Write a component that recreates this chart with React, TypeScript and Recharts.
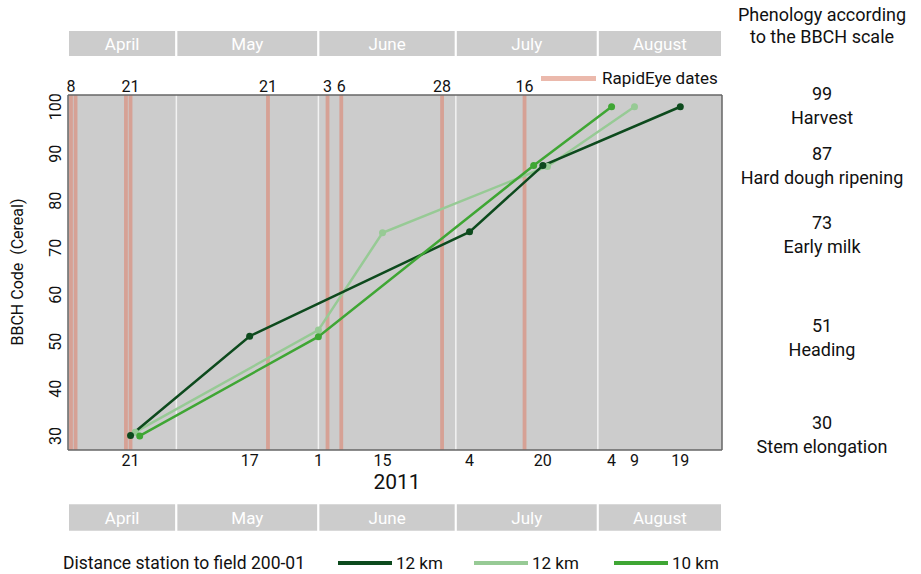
import React from 'react';
import {
  ComposedChart,
  Line,
  XAxis,
  YAxis,
  CartesianGrid,
  ReferenceLine,
  ReferenceArea,
} from 'recharts';

// day of year for 2011 (non-leap)
const MONTH_OFFSET: Record<number, number> = { 4: 90, 5: 120, 6: 151, 7: 181, 8: 212, 9: 243 };
const doy = (s: string) => {
  const [m, d] = s.split('-').map(Number);
  return MONTH_OFFSET[m] + d;
};
const dayOfMonth = (v: number) => {
  const m = [9, 8, 7, 6, 5, 4].find((k) => v > MONTH_OFFSET[k]) ?? 4;
  return String(Math.round(v - MONTH_OFFSET[m]));
};

const X_MIN = 97.35;
const X_MAX = 240.1;
const Y_MIN = 27;
const Y_MAX = 102.5;

const months = ['April', 'May', 'June', 'July', 'August'];
const monthStarts = ['04-01', '05-01', '06-01', '07-01', '08-01'];

const rapidEyeDates = ['04-08', '04-09', '04-20', '04-21', '05-21', '06-03', '06-06', '06-28', '07-16'];
const rapidEyeLabels = ['04-08', '04-21', '05-21', '06-03', '06-06', '06-28', '07-16'];
const bottomTicks = ['04-21', '05-17', '06-01', '06-15', '07-04', '07-20', '08-04', '08-09', '08-19'];
const yTicks = [30, 40, 50, 60, 70, 80, 90, 100];

// 12 km (dark)
const darkDates = ['04-21', '05-17', '07-04', '07-20', '08-19'];
const darkValues = [30.1, 51.2, 73.4, 87.5, 100];
// 12 km (light)
const lightDates = ['04-22', '06-01', '06-15', '07-21', '08-09'];
const lightValues = [30.8, 52.5, 73.2, 87.3, 100];
// 10 km
const midDates = ['04-23', '06-01', '07-18', '08-04'];
const midValues = [30, 51.1, 87.5, 100];

const phenoCodes = ['99', '87', '73', '51', '30'];
const phenoNames = ['Harvest', 'Hard dough ripening', 'Early milk', 'Heading', 'Stem elongation'];

const toRows = (dates: string[], values: number[]) =>
  dates.map((d, i) => ({ x: doy(d), y: values[i] }));

const DARK = '#0d4a1d';
const LIGHT = '#97ca95';
const MID = '#3fa634';
const BAR = '#d6a195';
const FONT = 'Roboto, sans-serif';

const YTick = (props: any) => {
  const { x, y, payload } = props;
  return (
    <text
      transform={`translate(${x - 13},${y}) rotate(-90)`}
      textAnchor="middle"
      dominantBaseline="central"
      fontSize={16}
      fill="#111"
      fontFamily={FONT}
    >
      {payload.value}
    </text>
  );
};

const bandBounds = monthStarts.map((s, i) => [
  Math.max(doy(s), X_MIN),
  i + 1 < monthStarts.length ? doy(monthStarts[i + 1]) : X_MAX,
]);

const pheno = [15, 93, 153, 222, 325, 422];

export default function App() {
  const tickStyle = { fontSize: 16, fill: '#111', fontFamily: FONT };
  const bandLabel = (m: string) => ({
    value: m,
    position: 'center' as const,
    fill: '#ffffff',
    fontSize: 17,
    fontFamily: FONT,
  });
  return (
    <div style={{ position: 'absolute', left: 0, top: 0, width: 921, height: 574, fontFamily: FONT, color: '#111' }}>
      <ComposedChart
        width={921}
        height={574}
        margin={{ top: 70, right: 199, bottom: 94, left: 0 }}
        style={{ fontFamily: FONT }}
      >
        <CartesianGrid fill="#cccccc" horizontal={false} vertical={false} />
        <XAxis
          xAxisId={0}
          type="number"
          dataKey="x"
          domain={[X_MIN, X_MAX]}
          allowDataOverflow
          ticks={bottomTicks.map(doy)}
          tickFormatter={dayOfMonth}
          tick={tickStyle}
          tickLine={false}
          tickSize={0}
          tickMargin={5}
          height={30}
          axisLine={{ stroke: '#666', strokeWidth: 1.5 }}
        />
        <XAxis
          xAxisId="top"
          orientation="top"
          type="number"
          dataKey="x"
          domain={[X_MIN, X_MAX]}
          allowDataOverflow
          ticks={rapidEyeLabels.map(doy)}
          tickFormatter={dayOfMonth}
          tick={tickStyle}
          tickLine={false}
          tickSize={0}
          tickMargin={3}
          height={25}
          axisLine={{ stroke: '#666', strokeWidth: 1.5 }}
        />
        <YAxis
          type="number"
          domain={[Y_MIN, Y_MAX]}
          allowDataOverflow
          ticks={yTicks}
          tick={<YTick />}
          tickLine={false}
          tickSize={0}
          tickMargin={0}
          width={68}
          axisLine={{ stroke: '#666', strokeWidth: 1.5 }}
        />

        {/* month bands above and below the plot */}
        {months.map((m, i) => (
          <ReferenceArea
            key={'t' + m}
            x1={bandBounds[i][0]}
            x2={bandBounds[i][1]}
            y1={110.6}
            y2={116.3}
            ifOverflow="visible"
            fill="#cccccc"
            fillOpacity={1}
            stroke="#ffffff"
            strokeWidth={2}
            label={bandLabel(m)}
          />
        ))}
        {months.map((m, i) => (
          <ReferenceArea
            key={'b' + m}
            x1={bandBounds[i][0]}
            x2={bandBounds[i][1]}
            y1={9.6}
            y2={15.7}
            ifOverflow="visible"
            fill="#cccccc"
            fillOpacity={1}
            stroke="#ffffff"
            strokeWidth={2}
            label={bandLabel(m)}
          />
        ))}

        {monthStarts.slice(1).map((s) => (
          <ReferenceLine key={'m' + s} x={doy(s)} stroke="#f2f2f2" strokeWidth={1.5} />
        ))}
        {rapidEyeDates.map((s) => (
          <ReferenceLine key={'r' + s} x={doy(s)} stroke={BAR} strokeWidth={3.8} />
        ))}
        <ReferenceLine x={X_MAX} stroke="#666" strokeWidth={1.5} />

        <Line
          data={toRows(lightDates, lightValues)}
          dataKey="y"
          type="linear"
          stroke={LIGHT}
          strokeWidth={2.5}
          dot={{ r: 3.5, fill: LIGHT, stroke: LIGHT, strokeWidth: 0 }}
          isAnimationActive={false}
        />
        <Line
          data={toRows(darkDates, darkValues)}
          dataKey="y"
          type="linear"
          stroke={DARK}
          strokeWidth={2.5}
          dot={{ r: 3.5, fill: DARK, stroke: DARK, strokeWidth: 0 }}
          isAnimationActive={false}
        />
        <Line
          data={toRows(midDates, midValues)}
          dataKey="y"
          type="linear"
          stroke={MID}
          strokeWidth={2.5}
          dot={{ r: 3.5, fill: MID, stroke: MID, strokeWidth: 0 }}
          isAnimationActive={false}
        />
      </ComposedChart>

      {/* y axis title */}
      <div
        style={{
          position: 'absolute',
          left: 17,
          top: 272,
          transform: 'translate(-50%, -50%) rotate(-90deg)',
          whiteSpace: 'pre',
          fontSize: 16,
        }}
      >
        {'BBCH Code  (Cereal)'}
      </div>

      <div style={{ position: 'absolute', left: 347, top: 470, width: 100, textAlign: 'center', fontSize: 21 }}>2011</div>

      {/* RapidEye legend */}
      <div style={{ position: 'absolute', left: 541, top: 75.5, width: 55, height: 5, background: '#ebb9ac' }} />
      <div style={{ position: 'absolute', left: 602, top: 67, fontSize: 17, lineHeight: '22px', whiteSpace: 'nowrap' }}>
        RapidEye dates
      </div>

      {/* phenology annotations */}
      <div style={{ position: 'absolute', left: 722, width: 200, top: pheno[0] - 11, textAlign: 'center', fontSize: 18, lineHeight: '22px' }}>
        Phenology according
        <br />
        to the BBCH scale
      </div>
      {phenoCodes.map((c, i) => (
        <div
          key={c}
          style={{ position: 'absolute', left: 722, width: 200, top: pheno[i + 1] - 11, textAlign: 'center', fontSize: 18, lineHeight: '23.5px' }}
        >
          {c}
          <br />
          {phenoNames[i]}
        </div>
      ))}

      {/* bottom legend */}
      <div style={{ position: 'absolute', left: 63, top: 552, fontSize: 17.5, lineHeight: '22px', whiteSpace: 'nowrap' }}>
        Distance station to field 200-01
      </div>
      {[
        { c: DARK, l: 338, label: '12 km' },
        { c: LIGHT, l: 474, label: '12 km' },
        { c: MID, l: 614, label: '10 km' },
      ].map((s, i) => (
        <React.Fragment key={i}>
          <div style={{ position: 'absolute', left: s.l, top: 561, width: 54, height: 4, background: s.c }} />
          <div style={{ position: 'absolute', left: s.l + 58, top: 552, fontSize: 17, lineHeight: '22px', whiteSpace: 'nowrap' }}>
            {s.label}
          </div>
        </React.Fragment>
      ))}
    </div>
  );
}
